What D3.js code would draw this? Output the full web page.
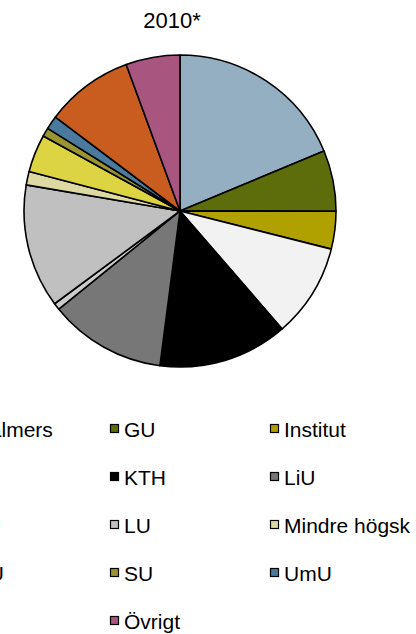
<!DOCTYPE html>
<html><head><meta charset="utf-8">
<script src="https://cdn.jsdelivr.net/npm/d3@7"></script>
<style>html,body{margin:0;padding:0;background:#fff;overflow:hidden}svg{display:block}</style>
</head><body>
<script>
const categories = ["Chalmers","GU","Institut","KI","KTH","LiU","LTU","LU","Mindre högsk","SLU","SU","UmU","UU","Övrigt"];
const values = [18.7,6.3,3.9,9.7,13.4,12.1,0.7,12.8,1.4,3.9,0.9,1.4,9.1,5.6];
const colors = ["#93AFC1","#5E6D0B","#B0A000","#F2F2F2","#000000","#777777","#CCCCCC","#C0C0C0","#DED8A2","#DCD442","#9A9432","#4A7B9F","#C85D1F","#A8567F"];
const title = "2010*";

const W = 416, H = 634;
const svg = d3.select("body").append("svg").attr("width", W).attr("height", H);
const font = "'Liberation Sans', Arial, sans-serif";

svg.append("text").attr("x", 172).attr("y", 28).attr("text-anchor","middle")
  .attr("font-family", font).attr("font-size", 22).attr("fill","#000").text(title);

const cx = 180, cy = 211, r = 156;
const pie = d3.pie().sort(null).value(d => d)(values);
const arc = d3.arc().innerRadius(0).outerRadius(r);
const g = svg.append("g").attr("transform", `translate(${cx},${cy})`);
g.selectAll("path").data(pie).join("path")
  .attr("d", arc).attr("fill", (d,i) => colors[i])
  .attr("stroke","#000").attr("stroke-width",1.6).attr("stroke-linejoin","round");

const colX = [-51, 110, 270];
const rowY = [429, 477, 525, 573, 621];
const lg = svg.append("g");
categories.forEach((c,i) => {
  const col = i % 3, row = Math.floor(i/3);
  const x = colX[col], y = rowY[row];
  lg.append("rect").attr("x", x+0.5).attr("y", y-4.5).attr("width", 8).attr("height", 8)
    .attr("fill", colors[i]).attr("stroke","#000").attr("stroke-width",1.2);
  lg.append("text").attr("x", x+14).attr("y", y+7.5).attr("font-family", font)
    .attr("font-size", 21).attr("fill","#000").text(c);
});
</script>
</body></html>
